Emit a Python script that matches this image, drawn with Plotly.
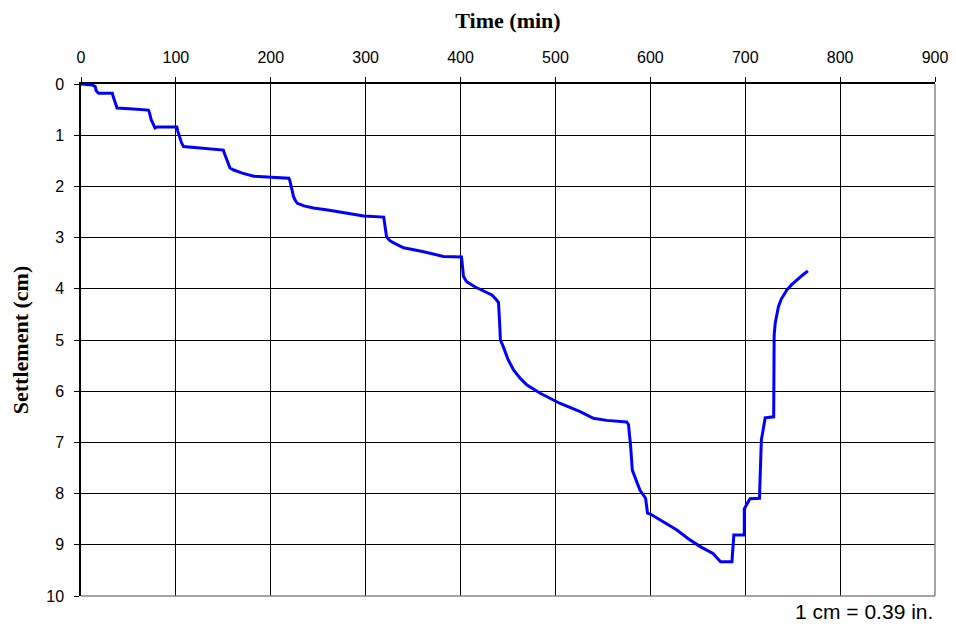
import plotly.graph_objects as go

# settlement curve
time_min = [0, 12, 15, 16, 18.5, 33, 34, 36, 38, 55, 71, 72, 74, 76, 78, 80, 101,
            102, 104, 106, 108, 125, 140, 150, 151, 153, 155, 157, 161, 170, 182,
            200, 219, 220, 222, 224, 226, 228, 235, 245, 260, 280, 298, 319, 320,
            321, 322, 325, 329, 340, 360, 382, 401, 402, 403, 405, 407, 415, 428,
            433, 438, 440, 441, 442, 445, 450, 456, 463, 470, 484, 505, 526, 540,
            554, 575, 577, 578, 579, 581, 585, 589, 595, 596, 597, 600, 614, 628,
            640, 653, 666, 674, 686, 687, 688, 699, 699, 702, 705, 715, 716, 717,
            718, 721, 730, 730, 730.5, 731.6, 733, 735, 738, 741, 744, 749, 754,
            760, 766]
settlement_cm = [0, 0.02, 0.05, 0.13, 0.18, 0.18, 0.25, 0.35, 0.47, 0.49, 0.51, 0.55,
                 0.7, 0.78, 0.86, 0.84, 0.84, 0.92, 1.05, 1.15, 1.22, 1.25, 1.28, 1.29,
                 1.35, 1.45, 1.55, 1.64, 1.68, 1.74, 1.8, 1.82, 1.84, 1.88, 2.05, 2.2,
                 2.28, 2.33, 2.38, 2.42, 2.46, 2.52, 2.58, 2.6, 2.7, 2.85, 2.98, 3.05,
                 3.1, 3.2, 3.27, 3.37, 3.38, 3.55, 3.75, 3.82, 3.87, 3.96, 4.07, 4.12,
                 4.22, 4.27, 4.6, 5.0, 5.13, 5.38, 5.59, 5.75, 5.88, 6.04, 6.24, 6.4,
                 6.53, 6.57, 6.6, 6.65, 6.85, 7.02, 7.54, 7.75, 7.93, 8.09, 8.25, 8.38,
                 8.4, 8.55, 8.71, 8.88, 9.04, 9.17, 9.33, 9.33, 9.05, 8.81, 8.81, 8.3,
                 8.2, 8.1, 8.09, 7.47, 6.95, 6.85, 6.52, 6.5, 5.6, 4.9, 4.67, 4.5, 4.35,
                 4.2, 4.1, 4.02, 3.92, 3.83, 3.74, 3.65]

fig = go.Figure(
    data=go.Scatter(
        x=time_min,
        y=settlement_cm,
        mode="lines",
        line=dict(color="#0000FF", width=3),
        showlegend=False,
    )
)

tick_font = dict(family="Liberation Sans, Arial", size=16, color="black")
title_font = dict(family="Liberation Serif, Times New Roman", size=22, color="black", weight="bold")

# page body adds 8px, so the figure is a bit smaller than the window
fig.update_layout(
    width=948,
    height=621,
    margin=dict(l=73, r=21, t=76, b=33),
    plot_bgcolor="white",
    paper_bgcolor="white",
    xaxis=dict(
        side="top",
        range=[0, 900],
        dtick=100,
        automargin=False,
        showgrid=True,
        gridcolor="black",
        gridwidth=1,
        zeroline=False,
        showline=True,
        linecolor="black",
        linewidth=1.5,
        ticks="outside",
        ticklen=5,
        tickcolor="black",
        tickfont=tick_font,
        ticklabelstandoff=8,
        title=dict(text="Time (min)", font=title_font, standoff=14),
    ),
    yaxis=dict(
        range=[10, 0],
        dtick=1,
        automargin=False,
        showgrid=True,
        gridcolor="black",
        gridwidth=1,
        zeroline=False,
        showline=True,
        linecolor="black",
        linewidth=1.5,
        ticks="outside",
        ticklen=5,
        tickcolor="black",
        tickfont=tick_font,
        ticklabelstandoff=7,
        title=dict(text="Settlement (cm)", font=title_font, standoff=18),
    ),
)

# grey right and bottom frame
fig.add_shape(type="line", xref="paper", yref="paper", x0=1, x1=1, y0=0, y1=1,
              line=dict(color="#888888", width=1.5))
fig.add_shape(type="line", xref="paper", yref="paper", x0=0, x1=1, y0=0, y1=0,
              line=dict(color="#888888", width=1.5))

fig.add_annotation(
    text="1 cm = 0.39 in.",
    xref="paper", yref="paper",
    x=1, y=0, xanchor="right", yanchor="top", yshift=-2,
    showarrow=False,
    font=dict(family="Liberation Sans, Arial", size=21, color="black"),
)

fig.write_html("out.html")
